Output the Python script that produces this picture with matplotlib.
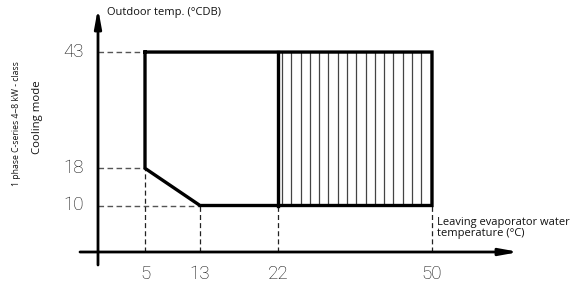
import numpy as np
import matplotlib
matplotlib.use("Agg")
import matplotlib.pyplot as plt

# ---- data ----
x_ticks = [5, 13, 22, 50]
y_ticks = [10, 18, 43]
x_tick_labels = ["5", "13", "22", "50"]
y_tick_labels = ["10", "18", "43"]
# operating envelope (leaving water temp, outdoor temp)
env_x = [5, 50, 50, 13, 5, 5]
env_y = [43, 43, 10, 10, 18, 43]
hatch_x = [22, 50]
hatch_y = [10, 43]
x_title = "Leaving evaporator water\ntemperature (°C)"
y_title = "Outdoor temp. (°CDB)"
side_small = "1 phase C-series 4~8 kW - class"
side_big = "Cooling mode"

# ---- schematic (non-linear) x-axis scale ----
_kx = np.array([-20, 0, 5, 13, 22, 50, 100], dtype=float)
_kp = np.array([-90, 98, 145, 200, 278, 432, 707], dtype=float)

def fwd(x):
    return np.interp(x, _kx, _kp)

def inv(p):
    return np.interp(p, _kp, _kx)

W, H = 583, 289
fig = plt.figure(figsize=(W / 100, H / 100), dpi=100)
ax = fig.add_axes([0, 0, 1, 1])
ax.set_xscale("function", functions=(fwd, inv))
ax.set_xlim(inv(0), inv(W))
ppu = 4.65
ax.set_ylim((252 - H) / ppu, 252 / ppu)
ax.axis("off")

FONT = ["Open Sans", "DejaVu Sans"]
TICKFONT = ["Roboto", "DejaVu Sans"]
dash_col = "#555555"
ls = (0, (4, 2.5))

# dashed guides
ax.plot([0, x_ticks[0]], [y_ticks[2]] * 2, color=dash_col, lw=1, ls=ls)
ax.plot([0, x_ticks[0]], [y_ticks[1]] * 2, color=dash_col, lw=1, ls=ls)
ax.plot([0, x_ticks[1]], [y_ticks[0]] * 2, color=dash_col, lw=1, ls=ls)
ax.plot([x_ticks[0]] * 2, [0, y_ticks[1]], color="#222222", lw=0.9, ls=ls)
for xv in x_ticks[1:]:
    ax.plot([xv] * 2, [0, y_ticks[0]], color="#222222", lw=0.9, ls=ls)

# hatch (vertical lines) inside 22..50
p0, p1 = fwd(hatch_x[0]), fwd(hatch_x[1])
hx = inv(np.linspace(p0 + 4, p1 - 1.5, 17))
ax.vlines(hx, hatch_y[0], hatch_y[1], color="#444444", lw=0.9)

# envelope
ax.plot(env_x, env_y, color="black", lw=2.4, solid_joinstyle="miter")
ax.plot([hatch_x[0]] * 2, hatch_y, color="black", lw=2.4)

# axes with arrows
xa0, xa1 = inv(80), inv(519)
ya0, ya1 = (252 - 265) / ppu, (252 - 8) / ppu
ax.annotate("", xy=(xa1, 0), xytext=(xa0, 0),
            arrowprops=dict(arrowstyle="-|>,head_length=1.1,head_width=0.2",
                            color="black", lw=2, shrinkA=0, shrinkB=0))
ax.annotate("", xy=(0, ya1), xytext=(0, ya0),
            arrowprops=dict(arrowstyle="-|>,head_length=1.1,head_width=0.2",
                            color="black", lw=2, shrinkA=0, shrinkB=0))

# tick labels
for xv, lab in zip(x_ticks, x_tick_labels):
    ax.text(xv, (252 - 274) / ppu, lab, ha="center", va="center",
            fontsize=13.5, family=TICKFONT, fontweight="light", color="#111111")
for yv, lab in zip(y_ticks, y_tick_labels):
    ax.text(inv(84), yv, lab, ha="right", va="center",
            fontsize=13.5, family=TICKFONT, fontweight="light", color="#111111")

# titles
ax.text(inv(107), (252 - 13) / ppu, y_title, ha="left", va="center",
        fontsize=8, family=FONT, color="#111111")
ax.text(inv(437), (252 - 228) / ppu, x_title, ha="left", va="center",
        fontsize=8, family=FONT, color="#111111", linespacing=0.95)
ax.text(inv(17), (252 - 124) / ppu, side_small, ha="center", va="center",
        rotation=90, fontsize=6.2, family=FONT, color="#111111")
ax.text(inv(38), (252 - 117) / ppu, side_big, ha="center", va="center",
        rotation=90, fontsize=8.2, family=FONT, color="#111111")

fig.savefig("out.png", dpi=100)
